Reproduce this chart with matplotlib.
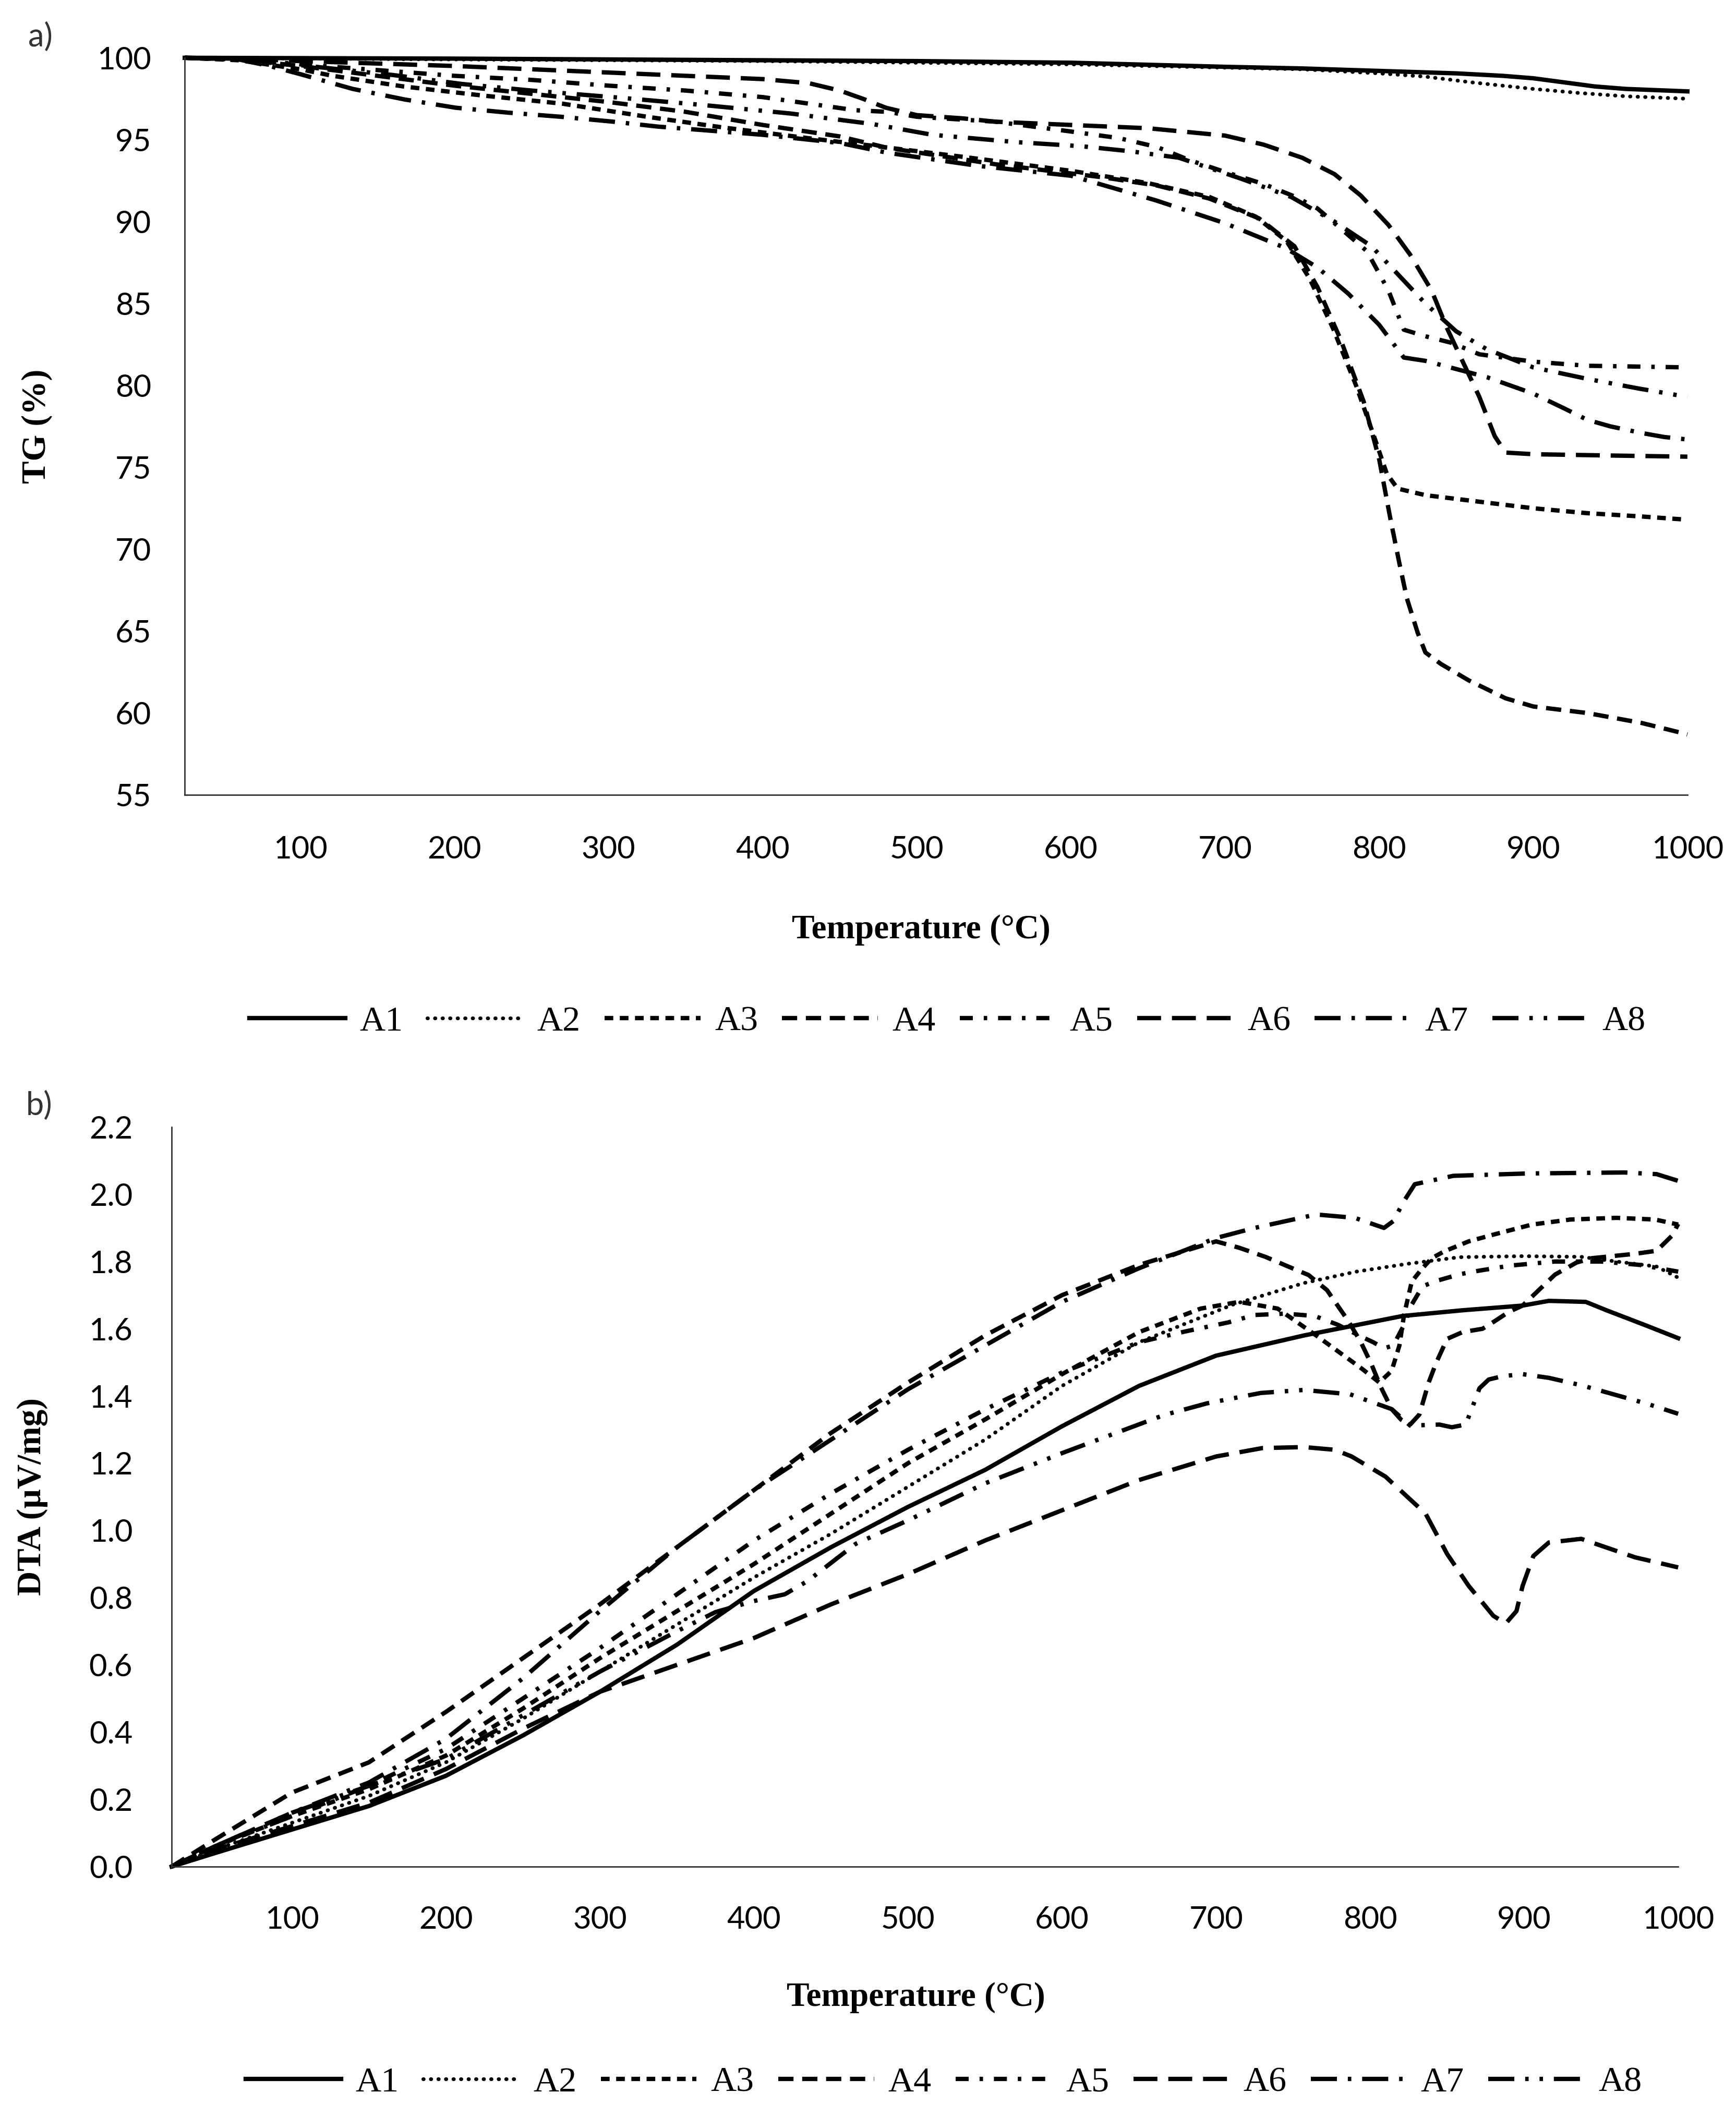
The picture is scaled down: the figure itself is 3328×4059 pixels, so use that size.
import numpy as np
import matplotlib
matplotlib.use("Agg")
import matplotlib.pyplot as plt
from matplotlib.lines import Line2D

# ---- data ----
labels = ["A1", "A2", "A3", "A4", "A5", "A6", "A7", "A8"]

# TG (%) curves
tg_t_a1 = [25, 200, 400, 500, 600, 700, 750, 800, 850, 880, 900, 920, 940, 960, 1000]
tg_v_a1 = [100, 99.95, 99.85, 99.8, 99.7, 99.45, 99.35, 99.2, 99.05, 98.9, 98.75, 98.5, 98.25, 98.1, 97.95]

tg_t_a2 = [25, 200, 400, 600, 700, 750, 800, 830, 860, 900, 930, 960, 1000]
tg_v_a2 = [100, 99.9, 99.8, 99.6, 99.4, 99.3, 99.05, 98.85, 98.5, 98.1, 97.85, 97.65, 97.5]

tg_t_a3 = [25, 60, 100, 121, 167, 218, 270, 325, 374, 429, 474, 526, 551, 600, 650, 690, 720, 740,
           755, 770, 785, 797, 805, 812, 830, 865, 900, 935, 970, 1000]
tg_v_a3 = [100, 99.85, 99.3, 98.9, 98.25, 97.7, 97.2, 96.4, 95.75, 95.1, 94.6, 94.0, 93.7, 93.1, 92.35,
           91.5, 90.3, 88.8, 86.5, 83.5, 80.0, 76.8, 74.6, 73.7, 73.3, 72.9, 72.5, 72.2, 72.0, 71.8]

tg_t_a4 = [25, 60, 100, 150, 200, 250, 300, 350, 400, 450, 481, 551, 621, 656, 690, 722, 745, 760, 775,
           790, 800, 807, 813, 818, 825, 830, 840, 858, 882, 900, 935, 970, 1000]
tg_v_a4 = [100, 99.9, 99.5, 98.9, 98.3, 97.8, 97.3, 96.7, 95.9, 95.2, 94.5, 93.5, 92.7, 92.2, 91.4, 90.2,
           88.5, 86.0, 82.8, 79.0, 75.5, 72.0, 69.2, 67.0, 64.9, 63.7, 63.0, 62.0, 60.9, 60.4, 60.0, 59.4, 58.7]

tg_t_a5 = [25, 60, 100, 150, 200, 250, 300, 350, 400, 430, 460, 481, 500, 551, 600, 631, 656, 677, 701,
           725, 746, 760, 776, 792, 806, 816, 830, 847, 865, 900, 935, 1000]
tg_v_a5 = [100, 99.95, 99.6, 99.25, 98.9, 98.65, 98.3, 98.0, 97.6, 97.2, 96.8, 96.7, 96.4, 96.1, 95.5,
           95.1, 94.55, 93.75, 93.0, 92.3, 91.5, 90.8, 89.5, 88.2, 85.8, 83.4, 83.0, 82.6, 81.9, 81.45, 81.2, 81.1]

tg_t_a6 = [25, 60, 100, 150, 200, 250, 300, 350, 400, 430, 450, 465, 480, 500, 530, 551, 600, 650, 700,
           725, 750, 771, 788, 806, 820, 834, 844, 854, 865, 875, 882, 900, 950, 1000]
tg_v_a6 = [100, 99.95, 99.8, 99.65, 99.5, 99.3, 99.1, 98.9, 98.7, 98.45, 98.0, 97.5, 96.95, 96.5, 96.3,
           96.1, 95.9, 95.7, 95.25, 94.7, 93.9, 92.9, 91.6, 89.8, 88.0, 85.8, 83.5, 81.5, 79.3, 76.9, 75.9,
           75.8, 75.72, 75.65]

tg_t_a7 = [25, 60, 80, 100, 134, 168, 201, 235, 269, 303, 332, 400, 450, 481, 540, 600, 655, 700, 739,
           760, 780, 800, 816, 830, 850, 870, 900, 920, 935, 950, 970, 985, 1000]
tg_v_a7 = [100, 99.9, 99.5, 99.0, 98.1, 97.45, 96.95, 96.65, 96.4, 96.1, 95.8, 95.3, 94.8, 94.2, 93.4,
           92.8, 91.3, 89.9, 88.4, 87.2, 85.6, 83.7, 81.7, 81.5, 81.0, 80.5, 79.5, 78.6, 77.9, 77.5, 77.1,
           76.85, 76.7]

tg_t_a8 = [25, 60, 100, 160, 205, 250, 309, 361, 418, 471, 510, 565, 607, 638, 670, 711, 743, 771, 795,
           812, 830, 850, 870, 900, 935, 969, 1000]
tg_v_a8 = [100, 99.9, 99.55, 98.95, 98.4, 98.0, 97.55, 97.12, 96.6, 95.96, 95.3, 94.85, 94.6, 94.3, 93.9,
           92.6, 91.5, 90.0, 88.5, 86.8, 85.0, 83.3, 82.2, 81.1, 80.4, 79.8, 79.3]

# DTA (uV/mg) curves
dta_t_a1 = [22, 50, 100, 150, 200, 250, 300, 350, 400, 450, 500, 550, 600, 650, 700, 757, 821, 860, 899,
            916, 940, 954, 979, 1000]
dta_v_a1 = [0, 0.04, 0.11, 0.18, 0.27, 0.39, 0.52, 0.66, 0.82, 0.95, 1.07, 1.18, 1.31, 1.43, 1.52, 1.58,
            1.638, 1.655, 1.669, 1.683, 1.68, 1.654, 1.61, 1.572]

dta_t_a2 = [22, 50, 100, 150, 200, 250, 300, 350, 400, 450, 500, 550, 600, 650, 711, 757, 791, 824, 858,
            899, 937, 960, 986, 1000]
dta_v_a2 = [0, 0.05, 0.13, 0.21, 0.31, 0.44, 0.58, 0.72, 0.86, 0.99, 1.13, 1.27, 1.43, 1.56, 1.672, 1.736,
            1.77, 1.793, 1.813, 1.816, 1.814, 1.80, 1.785, 1.752]

dta_t_a3 = [22, 50, 100, 150, 200, 250, 300, 350, 400, 450, 500, 550, 600, 650, 690, 715, 740, 765, 780,
            795, 806, 814, 819, 822, 827, 833, 840, 848, 856, 864, 880, 905, 930, 960, 985, 1000]
dta_v_a3 = [0, 0.06, 0.15, 0.23, 0.33, 0.47, 0.62, 0.76, 0.90, 1.05, 1.20, 1.33, 1.465, 1.59, 1.66, 1.68,
            1.66, 1.58, 1.53, 1.48, 1.44, 1.475, 1.55, 1.64, 1.74, 1.775, 1.81, 1.83, 1.845, 1.86, 1.88,
            1.91, 1.925, 1.93, 1.925, 1.91]

dta_t_a4 = [22, 50, 100, 150, 200, 250, 300, 350, 400, 450, 500, 550, 600, 650, 700, 715, 732, 750, 760,
            772, 786, 794, 801, 807, 814, 820, 826, 832, 838, 843, 850, 860, 873, 880, 890, 899, 920, 934,
            944, 972, 986, 996, 1000]
dta_v_a4 = [0, 0.08, 0.22, 0.31, 0.46, 0.62, 0.78, 0.95, 1.12, 1.29, 1.44, 1.58, 1.70, 1.79, 1.86, 1.841,
            1.814, 1.779, 1.76, 1.715, 1.622, 1.56, 1.493, 1.426, 1.361, 1.33, 1.315, 1.345, 1.44, 1.50,
            1.57, 1.59, 1.60, 1.62, 1.65, 1.669, 1.761, 1.797, 1.81, 1.823, 1.832, 1.877, 1.912]

dta_t_a5 = [22, 50, 100, 150, 200, 250, 300, 350, 400, 450, 500, 550, 600, 650, 680, 708, 725, 745, 764,
            779, 795, 802, 809, 815, 823, 826, 834, 842, 858, 867, 883, 891, 920, 950, 975, 1000]
dta_v_a5 = [0, 0.06, 0.15, 0.24, 0.35, 0.50, 0.65, 0.81, 0.97, 1.11, 1.24, 1.36, 1.47, 1.56, 1.592, 1.619,
            1.641, 1.645, 1.638, 1.612, 1.575, 1.56, 1.542, 1.55, 1.62, 1.664, 1.726, 1.741, 1.762, 1.77,
            1.782, 1.788, 1.80, 1.80, 1.79, 1.77]

dta_t_a6 = [22, 50, 100, 150, 200, 250, 300, 350, 400, 450, 500, 550, 600, 650, 700, 730, 757, 777, 788,
            810, 836, 850, 864, 880, 888, 895, 899, 906, 916, 937, 951, 972, 1000]
dta_v_a6 = [0, 0.05, 0.12, 0.19, 0.29, 0.41, 0.52, 0.60, 0.68, 0.78, 0.87, 0.97, 1.06, 1.15, 1.22, 1.245,
            1.248, 1.24, 1.22, 1.16, 1.05, 0.93, 0.835, 0.746, 0.723, 0.76, 0.835, 0.924, 0.964, 0.975,
            0.953, 0.92, 0.89]

dta_t_a7 = [22, 50, 100, 150, 200, 250, 300, 350, 400, 450, 500, 550, 600, 650, 700, 725, 765, 790, 809,
            815, 822, 829, 854, 902, 965, 986, 1000]
dta_v_a7 = [0, 0.06, 0.16, 0.25, 0.38, 0.56, 0.76, 0.95, 1.12, 1.27, 1.42, 1.55, 1.68, 1.78, 1.87, 1.90,
            1.94, 1.93, 1.90, 1.92, 1.98, 2.03, 2.055, 2.062, 2.065, 2.06, 2.04]

dta_t_a8 = [22, 50, 100, 150, 200, 250, 300, 350, 375, 400, 420, 435, 466, 500, 550, 600, 666, 694, 729,
            757, 787, 814, 826, 845, 853, 862, 865, 871, 877, 886, 899, 916, 937, 958, 979, 1000]
dta_v_a8 = [0, 0.06, 0.16, 0.24, 0.32, 0.45, 0.58, 0.70, 0.757, 0.79, 0.81, 0.85, 0.96, 1.03, 1.14, 1.23,
            1.343, 1.378, 1.409, 1.418, 1.405, 1.361, 1.312, 1.315, 1.307, 1.315, 1.35, 1.423, 1.449, 1.459,
            1.465, 1.454, 1.432, 1.405, 1.378, 1.347]

tg_t = [tg_t_a1, tg_t_a2, tg_t_a3, tg_t_a4, tg_t_a5, tg_t_a6, tg_t_a7, tg_t_a8]
tg_v = [tg_v_a1, tg_v_a2, tg_v_a3, tg_v_a4, tg_v_a5, tg_v_a6, tg_v_a7, tg_v_a8]
dta_t = [dta_t_a1, dta_t_a2, dta_t_a3, dta_t_a4, dta_t_a5, dta_t_a6, dta_t_a7, dta_t_a8]
dta_v = [dta_v_a1, dta_v_a2, dta_v_a3, dta_v_a4, dta_v_a5, dta_v_a6, dta_v_a7, dta_v_a8]

# line styles (dash patterns in units of line width)
styles = [
    dict(ls="-", lw=3.0),
    dict(ls=(0, (0.1, 1.9)), lw=2.6, dash_capstyle="round"),
    dict(ls=(0, (2.0, 1.5)), lw=3.0),
    dict(ls=(0, (3.5, 2.0)), lw=3.0),
    dict(ls=(0, (3.0, 2.5, 0.8, 2.5)), lw=3.0),
    dict(ls=(0, (5.5, 2.5)), lw=3.0),
    dict(ls=(0, (6.0, 2.5, 0.8, 2.5)), lw=3.0),
    dict(ls=(0, (6.0, 2.5, 0.8, 2.5, 0.8, 2.5)), lw=3.0),
]

tick_font = "Lato"
serif = ["Liberation Serif", "DejaVu Serif"]

fig = plt.figure(figsize=(16.64, 20.295), dpi=200)

ax1 = fig.add_axes([0.1064, 0.6245, 0.8656, 0.3482])
ax2 = fig.add_axes([0.0989, 0.1183, 0.8678, 0.3493])


def style_axis(ax, xpad, ypad):
    for s in ["top", "right"]:
        ax.spines[s].set_visible(False)
    for s in ["left", "bottom"]:
        ax.spines[s].set_linewidth(1.0)
        ax.spines[s].set_color("#333333")
    ax.tick_params(length=0, labelsize=21.5)
    ax.tick_params(axis="x", pad=xpad)
    ax.tick_params(axis="y", pad=ypad)
    for lab in ax.get_xticklabels() + ax.get_yticklabels():
        lab.set_fontfamily(tick_font)
    ax.set_xticks(range(100, 1001, 100))


handles = []
for i in range(8):
    ln, = ax1.plot(tg_t[i], tg_v[i], color="black", clip_on=False, **styles[i])
    ax2.plot(dta_t[i], dta_v[i], color="black", clip_on=False, **styles[i])
    handles.append(ln)

ax1.set_xlim(25, 1000)
ax1.set_ylim(55, 100)
ax1.set_yticks(range(55, 101, 5))
style_axis(ax1, 28, 23)

ax2.set_xlim(22, 1000)
ax2.set_ylim(0, 2.2)
ax2.set_yticks(np.arange(0, 2.21, 0.2))
ax2.set_yticklabels([f"{v:.1f}" for v in np.arange(0, 2.21, 0.2)])
style_axis(ax2, 27, 27)

lab_kw = dict(fontfamily=serif, fontweight="bold", fontsize=23.5)
ax1.set_xlabel("Temperature (°C)", **lab_kw)
ax1.xaxis.set_label_coords(0.49, -0.162)
ax1.set_ylabel("TG (%)", **lab_kw)
ax1.yaxis.set_label_coords(-0.088, 0.5)

ax2.set_xlabel("Temperature (°C)", **lab_kw)
ax2.xaxis.set_label_coords(0.494, -0.156)
ax2.set_ylabel("DTA (µV/mg)", **lab_kw)
ax2.yaxis.set_label_coords(-0.082, 0.5)

fig.text(0.0162, 0.9894, "a)", fontfamily=tick_font, fontsize=22, va="top", color="#333333")
fig.text(0.0150, 0.4846, "b)", fontfamily=tick_font, fontsize=22, va="top", color="#333333")

leg_kw = dict(loc="center", ncol=8, frameon=False, handlelength=2.7, handletextpad=0.4,
              columnspacing=0.68, prop={"family": serif, "size": 24.5})
fig.legend(handles, labels, bbox_to_anchor=(0.5458, 0.5174), **leg_kw)
fig.legend(handles, labels, bbox_to_anchor=(0.5436, 0.0163), **leg_kw)

fig.savefig("out.png", dpi=200, facecolor="white")
